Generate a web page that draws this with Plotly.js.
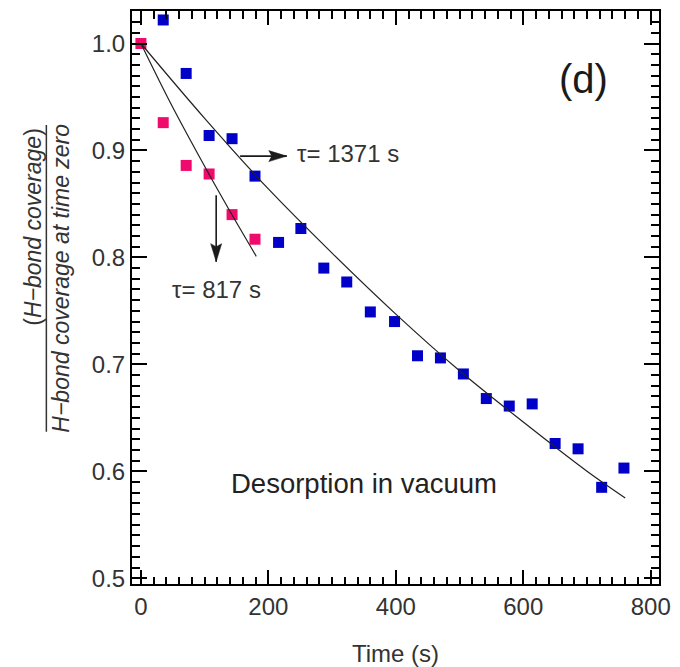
<!DOCTYPE html>
<html>
<head>
<meta charset="utf-8">
<script src="https://cdn.plot.ly/plotly-3.0.1.min.js"></script>
<style>
  html, body { margin: 0; padding: 0; background: #ffffff; }
  #chart { width: 680px; height: 667px; }
</style>
</head>
<body>
<div id="chart"></div>
<script>
// ---- data ----
const pinkTime = [0, 35, 71, 107, 143, 179];
const pinkCov  = [1.000, 0.926, 0.886, 0.878, 0.840, 0.817];

const blueTime = [35, 71, 107, 143, 179, 216, 251, 287, 323, 360, 398,
                  434, 470, 506, 542, 578, 614, 650, 686, 723, 758];
const blueCov  = [1.022, 0.972, 0.914, 0.911, 0.876, 0.814, 0.827, 0.790, 0.777, 0.749, 0.740,
                  0.708, 0.706, 0.691, 0.668, 0.661, 0.663, 0.626, 0.621, 0.585, 0.603];

// fitted decay curves
const fitBlueTime = [0, 100, 200, 300, 400, 500, 600, 700, 760];
const fitBlueCov  = [1.000, 0.930, 0.864, 0.804, 0.747, 0.694, 0.646, 0.600, 0.575];
const fitPinkTime = [0, 45, 90, 135, 181];
const fitPinkCov  = [1.000, 0.946, 0.896, 0.848, 0.801];

const xTickVals = [0, 200, 400, 600, 800];
const yTickVals = [0.5, 0.6, 0.7, 0.8, 0.9, 1.0];

const labelTauBlue = 'τ= 1371 s';
const labelTauPink = 'τ= 817 s';
const labelPanel = '(d)';
const labelNote = 'Desorption in vacuum';
const xTitle = 'Time (s)';
const yNumerator = '(<i>H−bond coverage</i>)';
const yDenominator = '<i>H−bond coverage at time zero</i>';

// ---- styling ----
const FONT = 'Liberation Sans, Arial, sans-serif';
const INK = '#000000';
const XR = [-14, 813];
const YR = [0.4946, 1.0304];

const traces = [
  { x: blueTime, y: blueCov, type: 'scatter', mode: 'markers', name: 'vacuum',
    marker: { symbol: 'square', size: 11, color: '#0000c8' }, showlegend: false },
  { x: pinkTime, y: pinkCov, type: 'scatter', mode: 'markers', name: 'early',
    marker: { symbol: 'square', size: 11, color: '#f00a6c' }, showlegend: false },
  { x: fitBlueTime, y: fitBlueCov, type: 'scatter', mode: 'lines', name: 'fit 1371 s',
    line: { color: '#222', width: 1.2, shape: 'spline' }, showlegend: false },
  { x: fitPinkTime, y: fitPinkCov, type: 'scatter', mode: 'lines', name: 'fit 817 s',
    line: { color: '#222', width: 1.2, shape: 'spline' }, showlegend: false }
];

const arrowBlue = { tail: [155.7, 0.8947], tip: [228.9, 0.8947] };
const arrowPink = { tail: [118.1, 0.858], tip: [118.1, 0.796] };

const layout = {
  width: 680, height: 667,
  margin: { l: 132, r: 21, t: 11, b: 83 },
  showlegend: false,
  xaxis: {
    range: XR, dtick: xTickVals[1] - xTickVals[0], tick0: xTickVals[0],
    ticks: 'inside', ticklen: 14, tickwidth: 2, tickcolor: INK,
    showline: true, linewidth: 2, linecolor: INK, mirror: 'ticks',
    showgrid: false, zeroline: false,
    tickfont: { family: FONT, size: 24, color: '#333' },
    minor: { dtick: 20, ticks: 'inside', ticklen: 7.5, tickwidth: 2, tickcolor: INK },
    title: { text: xTitle, font: { family: FONT, size: 24, color: '#333' } }
  },
  yaxis: {
    range: YR, dtick: +(yTickVals[1] - yTickVals[0]).toFixed(2), tick0: yTickVals[0],
    tickformat: '.1f',
    ticks: 'inside', ticklen: 15, tickwidth: 2, tickcolor: INK,
    showline: true, linewidth: 2, linecolor: INK, mirror: 'ticks',
    showgrid: false, zeroline: false,
    tickfont: { family: FONT, size: 24, color: '#333' },
    minor: { dtick: 0.01, ticks: 'inside', ticklen: 8, tickwidth: 2, tickcolor: INK }
  },
  annotations: [
    { x: 694, y: 0.967, xref: 'x', yref: 'y', text: labelPanel, showarrow: false,
      font: { family: FONT, size: 40, color: '#1a1a1a' }, xanchor: 'center', yanchor: 'middle' },
    { x: 242, y: 0.897, xref: 'x', yref: 'y', text: labelTauBlue, showarrow: false,
      font: { family: FONT, size: 24, color: '#333' }, xanchor: 'left', yanchor: 'middle' },
    { x: 46, y: 0.770, xref: 'x', yref: 'y', text: labelTauPink, showarrow: false,
      font: { family: FONT, size: 24, color: '#333' }, xanchor: 'left', yanchor: 'middle' },
    { x: 350, y: 0.589, xref: 'x', yref: 'y', text: labelNote, showarrow: false,
      font: { family: FONT, size: 27.5, color: '#222' }, xanchor: 'center', yanchor: 'middle' },
    { x: -0.1872, y: 0.6241, xref: 'paper', yref: 'paper', text: yNumerator, showarrow: false,
      textangle: -90, font: { family: FONT, size: 23, color: '#333' }, xanchor: 'center', yanchor: 'middle' },
    { x: -0.1341, y: 0.5334, xref: 'paper', yref: 'paper', text: yDenominator, showarrow: false,
      textangle: -90, font: { family: FONT, size: 23, color: '#333' }, xanchor: 'center', yanchor: 'middle' }
  ],
  shapes: [
    // fraction bar of the y-axis title
    { type: 'line', xref: 'paper', yref: 'paper', x0: -0.1625, x1: -0.1625, y0: 0.2657, y1: 0.801,
      line: { color: '#333', width: 1.5 } },
    // arrow shafts
    { type: 'line', xref: 'x', yref: 'y', x0: arrowBlue.tail[0], y0: arrowBlue.tail[1],
      x1: arrowBlue.tip[0], y1: arrowBlue.tip[1], line: { color: '#1a1a1a', width: 1.6 } },
    { type: 'line', xref: 'x', yref: 'y', x0: arrowPink.tail[0], y0: arrowPink.tail[1],
      x1: arrowPink.tip[0], y1: arrowPink.tip[1], line: { color: '#1a1a1a', width: 1.6 } },
    // arrow heads (pixel paths anchored at the tips)
    { type: 'path', xref: 'x', yref: 'y', xsizemode: 'pixel', ysizemode: 'pixel',
      xanchor: arrowBlue.tip[0], yanchor: arrowBlue.tip[1],
      path: 'M0,0 L-18,5.5 L-15,0 L-18,-5.5 Z', fillcolor: '#1a1a1a', line: { color: '#1a1a1a', width: 0.5 } },
    { type: 'path', xref: 'x', yref: 'y', xsizemode: 'pixel', ysizemode: 'pixel',
      xanchor: arrowPink.tip[0], yanchor: arrowPink.tip[1],
      path: 'M0,0 L-5.5,18 L0,15 L5.5,18 Z', fillcolor: '#1a1a1a', line: { color: '#1a1a1a', width: 0.5 } }
  ]
};

Plotly.newPlot('chart', traces, layout, { displayModeBar: false });
</script>
</body>
</html>
